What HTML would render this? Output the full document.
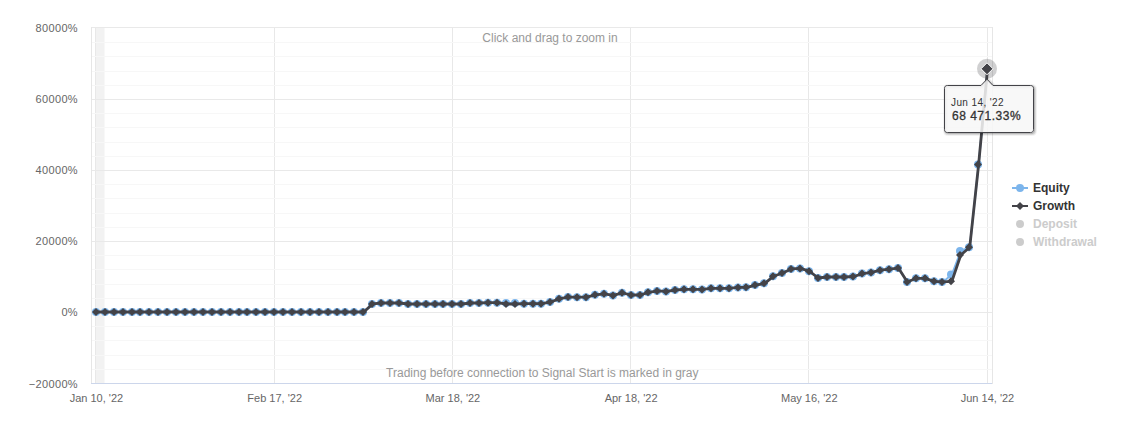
<!DOCTYPE html>
<html><head><meta charset="utf-8"><style>html,body{margin:0;padding:0;background:#fff;overflow:hidden}svg{display:block}</style></head>
<body><svg width="1122" height="434" viewBox="0 0 1122 434"><rect x="0" y="0" width="1122" height="434" fill="#ffffff"/><rect x="96" y="27" width="8.5" height="357" fill="#f2f2f2"/><path d="M95.5 27V384M274.5 27V384M452.5 27V384M630.5 27V384M808.5 27V384M987.5 27V384" stroke="#e8e8e8" stroke-width="1" fill="none"/><path d="M91.5 42.5H992.5M91.5 56.5H992.5M91.5 71.5H992.5M91.5 85.5H992.5M91.5 113.5H992.5M91.5 127.5H992.5M91.5 142.5H992.5M91.5 156.5H992.5M91.5 184.5H992.5M91.5 198.5H992.5M91.5 213.5H992.5M91.5 227.5H992.5M91.5 255.5H992.5M91.5 269.5H992.5M91.5 284.5H992.5M91.5 298.5H992.5M91.5 326.5H992.5M91.5 340.5H992.5M91.5 355.5H992.5M91.5 369.5H992.5" stroke="#f7f7f7" stroke-width="1" fill="none"/><path d="M91.5 27.5H992.5M91.5 99.5H992.5M91.5 170.5H992.5M91.5 241.5H992.5M91.5 312.5H992.5M91.5 383.5H992.5" stroke="#e9e9e9" stroke-width="1" fill="none"/><path d="M91.5 27V384M992.5 27V384" stroke="#e6e6e6" stroke-width="1" fill="none"/><path d="M91 383.5H992" stroke="#ccd6eb" stroke-width="1" fill="none"/><g font-family="Liberation Sans, sans-serif" font-size="11" fill="#666666" text-anchor="end" letter-spacing="0.35"><text x="78" y="31.5">80000%</text><text x="78" y="102.7">60000%</text><text x="78" y="173.9">40000%</text><text x="78" y="245.1">20000%</text><text x="78" y="316.3">0%</text><text x="78" y="387.5">−20000%</text></g><g font-family="Liberation Sans, sans-serif" font-size="11" fill="#666666" text-anchor="middle"><text x="96.4" y="402">Jan 10, &#39;22</text><text x="274.7" y="402">Feb 17, &#39;22</text><text x="452.9" y="402">Mar 18, &#39;22</text><text x="631.1" y="402">Apr 18, &#39;22</text><text x="809.3" y="402">May 16, &#39;22</text><text x="987.5" y="402">Jun 14, &#39;22</text></g><text x="550" y="42" font-family="Liberation Sans, sans-serif" font-size="12" fill="#999999" text-anchor="middle">Click and drag to zoom in</text><text x="542.3" y="377" font-family="Liberation Sans, sans-serif" font-size="12" fill="#999999" text-anchor="middle">Trading before connection to Signal Start is marked in gray</text><polyline points="96.44,312.00 105.35,312.00 114.26,312.00 123.17,312.00 132.08,312.00 141.00,312.00 149.91,312.00 158.82,312.00 167.73,312.00 176.64,312.00 185.55,312.00 194.46,312.00 203.37,312.00 212.28,312.00 221.19,312.00 230.10,312.00 239.02,312.00 247.93,312.00 256.84,312.00 265.75,312.00 274.66,312.00 283.57,312.00 292.48,312.00 301.39,312.00 310.30,312.00 319.21,312.00 328.13,312.00 337.04,312.00 345.95,312.00 354.86,312.00 363.77,312.00 372.68,303.90 381.59,303.00 390.50,303.00 399.41,303.00 408.32,304.00 417.24,304.00 426.15,304.00 435.06,304.00 443.97,304.00 452.88,304.00 461.79,304.00 470.70,303.00 479.61,303.00 488.52,302.70 497.44,302.70 506.35,302.90 515.26,302.90 524.17,303.70 533.08,303.70 541.99,303.70 550.90,301.90 559.81,298.70 568.72,297.10 577.63,297.20 586.54,297.20 595.46,294.80 604.37,293.80 613.28,295.40 622.19,292.85 631.10,295.00 640.01,295.00 648.92,292.35 657.83,290.95 666.74,291.40 675.65,290.00 684.57,289.30 693.48,289.30 702.39,289.40 711.30,288.30 720.21,288.30 729.12,288.30 738.03,287.40 746.94,287.30 755.85,285.10 764.76,283.30 773.68,276.20 782.59,273.00 791.50,268.90 800.41,268.40 809.32,271.20 818.23,278.00 827.14,277.00 836.05,277.00 844.96,277.00 853.88,276.50 862.79,273.60 871.70,272.40 880.61,270.20 889.52,269.20 898.43,268.10 907.34,282.00 916.25,278.30 925.16,278.30 934.07,281.30 942.98,281.90 951.90,274.60 960.81,250.90 969.72,247.30 978.63,164.50 987.54,68.80" stroke="#7cb5ec" stroke-width="2" fill="none" stroke-linejoin="round" stroke-linecap="round"/><g fill="#7cb5ec"><circle cx="96" cy="312.00" r="4"/><circle cx="105" cy="312.00" r="4"/><circle cx="114" cy="312.00" r="4"/><circle cx="123" cy="312.00" r="4"/><circle cx="132" cy="312.00" r="4"/><circle cx="140" cy="312.00" r="4"/><circle cx="149" cy="312.00" r="4"/><circle cx="158" cy="312.00" r="4"/><circle cx="167" cy="312.00" r="4"/><circle cx="176" cy="312.00" r="4"/><circle cx="185" cy="312.00" r="4"/><circle cx="194" cy="312.00" r="4"/><circle cx="203" cy="312.00" r="4"/><circle cx="212" cy="312.00" r="4"/><circle cx="221" cy="312.00" r="4"/><circle cx="230" cy="312.00" r="4"/><circle cx="239" cy="312.00" r="4"/><circle cx="247" cy="312.00" r="4"/><circle cx="256" cy="312.00" r="4"/><circle cx="265" cy="312.00" r="4"/><circle cx="274" cy="312.00" r="4"/><circle cx="283" cy="312.00" r="4"/><circle cx="292" cy="312.00" r="4"/><circle cx="301" cy="312.00" r="4"/><circle cx="310" cy="312.00" r="4"/><circle cx="319" cy="312.00" r="4"/><circle cx="328" cy="312.00" r="4"/><circle cx="337" cy="312.00" r="4"/><circle cx="345" cy="312.00" r="4"/><circle cx="354" cy="312.00" r="4"/><circle cx="363" cy="312.00" r="4"/><circle cx="372" cy="303.90" r="4"/><circle cx="381" cy="303.00" r="4"/><circle cx="390" cy="303.00" r="4"/><circle cx="399" cy="303.00" r="4"/><circle cx="408" cy="304.00" r="4"/><circle cx="417" cy="304.00" r="4"/><circle cx="426" cy="304.00" r="4"/><circle cx="435" cy="304.00" r="4"/><circle cx="443" cy="304.00" r="4"/><circle cx="452" cy="304.00" r="4"/><circle cx="461" cy="304.00" r="4"/><circle cx="470" cy="303.00" r="4"/><circle cx="479" cy="303.00" r="4"/><circle cx="488" cy="302.70" r="4"/><circle cx="497" cy="302.70" r="4"/><circle cx="506" cy="302.90" r="4"/><circle cx="515" cy="302.90" r="4"/><circle cx="524" cy="303.70" r="4"/><circle cx="533" cy="303.70" r="4"/><circle cx="541" cy="303.70" r="4"/><circle cx="550" cy="301.90" r="4"/><circle cx="559" cy="298.70" r="4"/><circle cx="568" cy="297.10" r="4"/><circle cx="577" cy="297.20" r="4"/><circle cx="586" cy="297.20" r="4"/><circle cx="595" cy="294.80" r="4"/><circle cx="604" cy="293.80" r="4"/><circle cx="613" cy="295.40" r="4"/><circle cx="622" cy="292.85" r="4"/><circle cx="631" cy="295.00" r="4"/><circle cx="640" cy="295.00" r="4"/><circle cx="648" cy="292.35" r="4"/><circle cx="657" cy="290.95" r="4"/><circle cx="666" cy="291.40" r="4"/><circle cx="675" cy="290.00" r="4"/><circle cx="684" cy="289.30" r="4"/><circle cx="693" cy="289.30" r="4"/><circle cx="702" cy="289.40" r="4"/><circle cx="711" cy="288.30" r="4"/><circle cx="720" cy="288.30" r="4"/><circle cx="729" cy="288.30" r="4"/><circle cx="738" cy="287.40" r="4"/><circle cx="746" cy="287.30" r="4"/><circle cx="755" cy="285.10" r="4"/><circle cx="764" cy="283.30" r="4"/><circle cx="773" cy="276.20" r="4"/><circle cx="782" cy="273.00" r="4"/><circle cx="791" cy="268.90" r="4"/><circle cx="800" cy="268.40" r="4"/><circle cx="809" cy="271.20" r="4"/><circle cx="818" cy="278.00" r="4"/><circle cx="827" cy="277.00" r="4"/><circle cx="836" cy="277.00" r="4"/><circle cx="844" cy="277.00" r="4"/><circle cx="853" cy="276.50" r="4"/><circle cx="862" cy="273.60" r="4"/><circle cx="871" cy="272.40" r="4"/><circle cx="880" cy="270.20" r="4"/><circle cx="889" cy="269.20" r="4"/><circle cx="898" cy="268.10" r="4"/><circle cx="907" cy="282.00" r="4"/><circle cx="916" cy="278.30" r="4"/><circle cx="925" cy="278.30" r="4"/><circle cx="934" cy="281.30" r="4"/><circle cx="942" cy="281.90" r="4"/><circle cx="951" cy="274.60" r="4"/><circle cx="960" cy="250.90" r="4"/><circle cx="969" cy="247.30" r="4"/><circle cx="978" cy="164.50" r="4"/><circle cx="987" cy="68.80" r="4"/></g><polyline points="96.44,312.00 105.35,312.00 114.26,312.00 123.17,312.00 132.08,312.00 141.00,312.00 149.91,312.00 158.82,312.00 167.73,312.00 176.64,312.00 185.55,312.00 194.46,312.00 203.37,312.00 212.28,312.00 221.19,312.00 230.10,312.00 239.02,312.00 247.93,312.00 256.84,312.00 265.75,312.00 274.66,312.00 283.57,312.00 292.48,312.00 301.39,312.00 310.30,312.00 319.21,312.00 328.13,312.00 337.04,312.00 345.95,312.00 354.86,312.00 363.77,312.00 372.68,303.90 381.59,303.00 390.50,303.00 399.41,303.00 408.32,304.00 417.24,304.00 426.15,304.00 435.06,304.00 443.97,304.00 452.88,304.00 461.79,304.00 470.70,303.00 479.61,303.00 488.52,302.70 497.44,302.70 506.35,304.00 515.26,304.00 524.17,303.70 533.08,303.70 541.99,303.70 550.90,301.90 559.81,298.70 568.72,297.10 577.63,297.20 586.54,297.20 595.46,294.80 604.37,293.80 613.28,295.40 622.19,292.85 631.10,295.00 640.01,295.00 648.92,292.35 657.83,290.95 666.74,291.40 675.65,290.00 684.57,289.30 693.48,289.30 702.39,289.40 711.30,288.30 720.21,288.30 729.12,288.30 738.03,287.40 746.94,287.30 755.85,285.10 764.76,283.30 773.68,276.20 782.59,273.00 791.50,268.90 800.41,268.40 809.32,271.20 818.23,278.00 827.14,277.00 836.05,277.00 844.96,277.00 853.88,276.50 862.79,273.60 871.70,272.40 880.61,270.20 889.52,269.20 898.43,268.10 907.34,282.00 916.25,278.30 925.16,278.30 934.07,281.30 942.98,281.90 951.90,281.30 960.81,255.00 969.72,247.30 978.63,164.50 987.54,68.80" stroke="#434348" stroke-width="2.8" fill="none" stroke-linejoin="round" stroke-linecap="round"/><path d="M96.00 308.00L100.00 312.00L96.00 316.00L92.00 312.00ZM105.00 308.00L109.00 312.00L105.00 316.00L101.00 312.00ZM114.00 308.00L118.00 312.00L114.00 316.00L110.00 312.00ZM123.00 308.00L127.00 312.00L123.00 316.00L119.00 312.00ZM132.00 308.00L136.00 312.00L132.00 316.00L128.00 312.00ZM140.00 308.00L144.00 312.00L140.00 316.00L136.00 312.00ZM149.00 308.00L153.00 312.00L149.00 316.00L145.00 312.00ZM158.00 308.00L162.00 312.00L158.00 316.00L154.00 312.00ZM167.00 308.00L171.00 312.00L167.00 316.00L163.00 312.00ZM176.00 308.00L180.00 312.00L176.00 316.00L172.00 312.00ZM185.00 308.00L189.00 312.00L185.00 316.00L181.00 312.00ZM194.00 308.00L198.00 312.00L194.00 316.00L190.00 312.00ZM203.00 308.00L207.00 312.00L203.00 316.00L199.00 312.00ZM212.00 308.00L216.00 312.00L212.00 316.00L208.00 312.00ZM221.00 308.00L225.00 312.00L221.00 316.00L217.00 312.00ZM230.00 308.00L234.00 312.00L230.00 316.00L226.00 312.00ZM239.00 308.00L243.00 312.00L239.00 316.00L235.00 312.00ZM247.00 308.00L251.00 312.00L247.00 316.00L243.00 312.00ZM256.00 308.00L260.00 312.00L256.00 316.00L252.00 312.00ZM265.00 308.00L269.00 312.00L265.00 316.00L261.00 312.00ZM274.00 308.00L278.00 312.00L274.00 316.00L270.00 312.00ZM283.00 308.00L287.00 312.00L283.00 316.00L279.00 312.00ZM292.00 308.00L296.00 312.00L292.00 316.00L288.00 312.00ZM301.00 308.00L305.00 312.00L301.00 316.00L297.00 312.00ZM310.00 308.00L314.00 312.00L310.00 316.00L306.00 312.00ZM319.00 308.00L323.00 312.00L319.00 316.00L315.00 312.00ZM328.00 308.00L332.00 312.00L328.00 316.00L324.00 312.00ZM337.00 308.00L341.00 312.00L337.00 316.00L333.00 312.00ZM345.00 308.00L349.00 312.00L345.00 316.00L341.00 312.00ZM354.00 308.00L358.00 312.00L354.00 316.00L350.00 312.00ZM363.00 308.00L367.00 312.00L363.00 316.00L359.00 312.00ZM372.00 299.90L376.00 303.90L372.00 307.90L368.00 303.90ZM381.00 299.00L385.00 303.00L381.00 307.00L377.00 303.00ZM390.00 299.00L394.00 303.00L390.00 307.00L386.00 303.00ZM399.00 299.00L403.00 303.00L399.00 307.00L395.00 303.00ZM408.00 300.00L412.00 304.00L408.00 308.00L404.00 304.00ZM417.00 300.00L421.00 304.00L417.00 308.00L413.00 304.00ZM426.00 300.00L430.00 304.00L426.00 308.00L422.00 304.00ZM435.00 300.00L439.00 304.00L435.00 308.00L431.00 304.00ZM443.00 300.00L447.00 304.00L443.00 308.00L439.00 304.00ZM452.00 300.00L456.00 304.00L452.00 308.00L448.00 304.00ZM461.00 300.00L465.00 304.00L461.00 308.00L457.00 304.00ZM470.00 299.00L474.00 303.00L470.00 307.00L466.00 303.00ZM479.00 299.00L483.00 303.00L479.00 307.00L475.00 303.00ZM488.00 298.70L492.00 302.70L488.00 306.70L484.00 302.70ZM497.00 298.70L501.00 302.70L497.00 306.70L493.00 302.70ZM506.00 300.00L510.00 304.00L506.00 308.00L502.00 304.00ZM515.00 300.00L519.00 304.00L515.00 308.00L511.00 304.00ZM524.00 299.70L528.00 303.70L524.00 307.70L520.00 303.70ZM533.00 299.70L537.00 303.70L533.00 307.70L529.00 303.70ZM541.00 299.70L545.00 303.70L541.00 307.70L537.00 303.70ZM550.00 297.90L554.00 301.90L550.00 305.90L546.00 301.90ZM559.00 294.70L563.00 298.70L559.00 302.70L555.00 298.70ZM568.00 293.10L572.00 297.10L568.00 301.10L564.00 297.10ZM577.00 293.20L581.00 297.20L577.00 301.20L573.00 297.20ZM586.00 293.20L590.00 297.20L586.00 301.20L582.00 297.20ZM595.00 290.80L599.00 294.80L595.00 298.80L591.00 294.80ZM604.00 289.80L608.00 293.80L604.00 297.80L600.00 293.80ZM613.00 291.40L617.00 295.40L613.00 299.40L609.00 295.40ZM622.00 288.85L626.00 292.85L622.00 296.85L618.00 292.85ZM631.00 291.00L635.00 295.00L631.00 299.00L627.00 295.00ZM640.00 291.00L644.00 295.00L640.00 299.00L636.00 295.00ZM648.00 288.35L652.00 292.35L648.00 296.35L644.00 292.35ZM657.00 286.95L661.00 290.95L657.00 294.95L653.00 290.95ZM666.00 287.40L670.00 291.40L666.00 295.40L662.00 291.40ZM675.00 286.00L679.00 290.00L675.00 294.00L671.00 290.00ZM684.00 285.30L688.00 289.30L684.00 293.30L680.00 289.30ZM693.00 285.30L697.00 289.30L693.00 293.30L689.00 289.30ZM702.00 285.40L706.00 289.40L702.00 293.40L698.00 289.40ZM711.00 284.30L715.00 288.30L711.00 292.30L707.00 288.30ZM720.00 284.30L724.00 288.30L720.00 292.30L716.00 288.30ZM729.00 284.30L733.00 288.30L729.00 292.30L725.00 288.30ZM738.00 283.40L742.00 287.40L738.00 291.40L734.00 287.40ZM746.00 283.30L750.00 287.30L746.00 291.30L742.00 287.30ZM755.00 281.10L759.00 285.10L755.00 289.10L751.00 285.10ZM764.00 279.30L768.00 283.30L764.00 287.30L760.00 283.30ZM773.00 272.20L777.00 276.20L773.00 280.20L769.00 276.20ZM782.00 269.00L786.00 273.00L782.00 277.00L778.00 273.00ZM791.00 264.90L795.00 268.90L791.00 272.90L787.00 268.90ZM800.00 264.40L804.00 268.40L800.00 272.40L796.00 268.40ZM809.00 267.20L813.00 271.20L809.00 275.20L805.00 271.20ZM818.00 274.00L822.00 278.00L818.00 282.00L814.00 278.00ZM827.00 273.00L831.00 277.00L827.00 281.00L823.00 277.00ZM836.00 273.00L840.00 277.00L836.00 281.00L832.00 277.00ZM844.00 273.00L848.00 277.00L844.00 281.00L840.00 277.00ZM853.00 272.50L857.00 276.50L853.00 280.50L849.00 276.50ZM862.00 269.60L866.00 273.60L862.00 277.60L858.00 273.60ZM871.00 268.40L875.00 272.40L871.00 276.40L867.00 272.40ZM880.00 266.20L884.00 270.20L880.00 274.20L876.00 270.20ZM889.00 265.20L893.00 269.20L889.00 273.20L885.00 269.20ZM898.00 264.10L902.00 268.10L898.00 272.10L894.00 268.10ZM907.00 278.00L911.00 282.00L907.00 286.00L903.00 282.00ZM916.00 274.30L920.00 278.30L916.00 282.30L912.00 278.30ZM925.00 274.30L929.00 278.30L925.00 282.30L921.00 278.30ZM934.00 277.30L938.00 281.30L934.00 285.30L930.00 281.30ZM942.00 277.90L946.00 281.90L942.00 285.90L938.00 281.90ZM951.00 277.30L955.00 281.30L951.00 285.30L947.00 281.30ZM960.00 251.00L964.00 255.00L960.00 259.00L956.00 255.00ZM969.00 243.30L973.00 247.30L969.00 251.30L965.00 247.30ZM978.00 160.50L982.00 164.50L978.00 168.50L974.00 164.50ZM987.00 64.80L991.00 68.80L987.00 72.80L983.00 68.80Z" fill="#434348"/><circle cx="987.00" cy="68.80" r="10" fill="#434348" fill-opacity="0.25"/><path d="M987.00 62.80L993.00 68.80L987.00 74.80L981.00 68.80Z" fill="#434348" stroke="#ffffff" stroke-width="1"/><g transform="translate(1,1)" fill="none" stroke="#000000"><path d="M947.5 85.5H981L987 79.2L993 85.5H1030.5C1032.5 85.5 1033.5 86.5 1033.5 88.5V129.5C1033.5 131.5 1032.5 132.5 1030.5 132.5H947.5C945.5 132.5 944.5 131.5 944.5 129.5V88.5C944.5 86.5 945.5 85.5 947.5 85.5Z" stroke-opacity="0.05" stroke-width="5"/><path d="M947.5 85.5H981L987 79.2L993 85.5H1030.5C1032.5 85.5 1033.5 86.5 1033.5 88.5V129.5C1033.5 131.5 1032.5 132.5 1030.5 132.5H947.5C945.5 132.5 944.5 131.5 944.5 129.5V88.5C944.5 86.5 945.5 85.5 947.5 85.5Z" stroke-opacity="0.1" stroke-width="3"/><path d="M947.5 85.5H981L987 79.2L993 85.5H1030.5C1032.5 85.5 1033.5 86.5 1033.5 88.5V129.5C1033.5 131.5 1032.5 132.5 1030.5 132.5H947.5C945.5 132.5 944.5 131.5 944.5 129.5V88.5C944.5 86.5 945.5 85.5 947.5 85.5Z" stroke-opacity="0.15" stroke-width="1"/></g><path d="M947.5 85.5H981L987 79.2L993 85.5H1030.5C1032.5 85.5 1033.5 86.5 1033.5 88.5V129.5C1033.5 131.5 1032.5 132.5 1030.5 132.5H947.5C945.5 132.5 944.5 131.5 944.5 129.5V88.5C944.5 86.5 945.5 85.5 947.5 85.5Z" fill="#f7f7f7" fill-opacity="0.85" stroke="#434348" stroke-width="1"/><text x="951" y="106" font-family="Liberation Sans, sans-serif" font-size="10" letter-spacing="0.4" fill="#333333">Jun 14, &#39;22</text><text x="952" y="120" font-family="Liberation Sans, sans-serif" font-size="12" letter-spacing="0.5" fill="#333333" stroke="#333333" stroke-width="0.3">68 471.33%</text><g font-family="Liberation Sans, sans-serif" font-size="12" font-weight="bold"><path d="M1012 188H1028" stroke="#7cb5ec" stroke-width="2"/><circle cx="1020" cy="188" r="4" fill="#7cb5ec"/><text x="1033" y="192" fill="#333333">Equity</text><path d="M1012 206H1028" stroke="#434348" stroke-width="2"/><path d="M1020 202L1024 206L1020 210L1016 206Z" fill="#434348"/><text x="1033" y="210" fill="#333333">Growth</text><circle cx="1020" cy="224" r="4" fill="#cccccc"/><text x="1033" y="228" fill="#cccccc">Deposit</text><circle cx="1020" cy="242" r="4" fill="#cccccc"/><text x="1033" y="246" fill="#cccccc">Withdrawal</text></g></svg></body></html>
